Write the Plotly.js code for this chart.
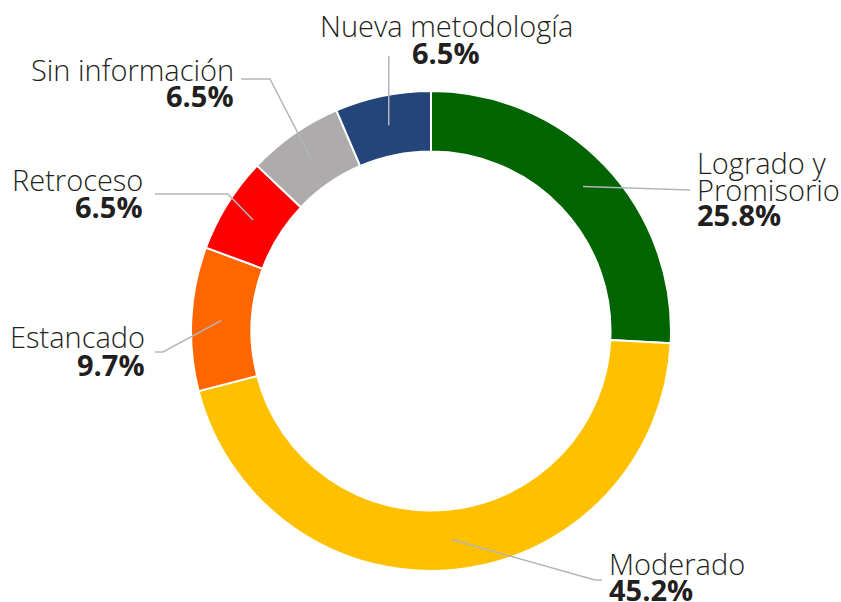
<!DOCTYPE html>
<html>
<head>
<meta charset="utf-8">
<script src="https://cdn.plot.ly/plotly-3.0.1.min.js"></script>
<style>html,body{margin:0;padding:0;background:#fff;}#chart{width:841px;height:602px;}</style>
</head>
<body>
<div id="chart"></div>
<script>
// Data
const categories = ["Logrado y Promisorio", "Moderado", "Estancado", "Retroceso", "Sin información", "Nueva metodología"];
const labelLines = [["Logrado y", "Promisorio"], ["Moderado"], ["Estancado"], ["Retroceso"], ["Sin información"], ["Nueva metodología"]];
const counts = [8, 14, 3, 2, 2, 2];
const colors = ["#006400", "#FFC000", "#FF6600", "#FF0000", "#ADABAB", "#23457A"];

const W = 841, H = 602;
const cx = 431, cy = 331, R = 240, hole = 0.748;
const px = x => x / W, py = y => 1 - y / H;

// label layout (pixels): anchor x, xanchor, line centers y, leader path after start
const layoutSpec = [
  {x: 695, xa: "left",   ys: [163, 189, 214], path: [[690, 190]]},
  {x: 607, xa: "left",   ys: [563, 589],      path: [[595, 580], [602, 580]]},
  {x: 147, xa: "right",  ys: [337, 364],      path: [[163, 352], [155, 352]]},
  {x: 145, xa: "right",  ys: [180, 206],      path: [[228, 194], [155, 194]]},
  {x: 236, xa: "right",  ys: [69, 96],        path: [[270, 79], [241, 79]]},
  {x: 446, xa: "center", ys: [26, 52],        path: [null, [390, 57]]}
];

const total = counts.reduce((a, b) => a + b, 0);
const annotations = [];
const shapes = [];
let cum = 0;
const rMid = R * (1 + hole) / 2;
counts.forEach((v, i) => {
  const mid = (cum + v / 2) / total * 2 * Math.PI;
  cum += v;
  const sx = cx + rMid * Math.sin(mid), sy = cy - rMid * Math.cos(mid);
  const spec = layoutSpec[i];
  const pts = [[sx, sy]];
  spec.path.forEach(p => { if (p) pts.push(p); else pts.push([sx, 57]); });
  let d = "M " + px(pts[0][0]) + " " + py(pts[0][1]);
  for (let k = 1; k < pts.length; k++) d += " L " + px(pts[k][0]) + " " + py(pts[k][1]);
  shapes.push({type: "path", xref: "paper", yref: "paper", path: d, line: {color: "#B3B6B8", width: 1.5}});
  const lines = labelLines[i].slice();
  const pct = (v / total * 100).toFixed(1) + "%";
  lines.forEach((t, k) => {
    annotations.push({xref: "paper", yref: "paper", x: px(spec.x), y: py(spec.ys[k]), xanchor: spec.xa, yanchor: "middle",
      text: t, showarrow: false, font: {family: "Open Sans", size: 29, color: "#231F20", weight: 300}});
  });
  annotations.push({xref: "paper", yref: "paper", x: px(spec.x), y: py(spec.ys[lines.length]), xanchor: spec.xa, yanchor: "middle",
    text: pct, showarrow: false, font: {family: "Open Sans", size: 29, color: "#231F20", weight: 700}});
});

const trace = {
  type: "pie", labels: categories, values: counts, hole: hole, sort: false, direction: "clockwise", rotation: 0,
  marker: {colors: colors, line: {color: "#FFFFFF", width: 2}}, textinfo: "none", hoverinfo: "label+percent",
  domain: {x: [px(cx - R), px(cx + R)], y: [py(cy + R), py(cy - R)]}
};

Plotly.newPlot("chart", [trace], {
  width: W, height: H, margin: {l: 0, r: 0, t: 0, b: 0}, showlegend: false,
  paper_bgcolor: "#FFFFFF", plot_bgcolor: "#FFFFFF", annotations: annotations, shapes: shapes
}, {displayModeBar: false, staticPlot: true});
</script>
</body>
</html>
